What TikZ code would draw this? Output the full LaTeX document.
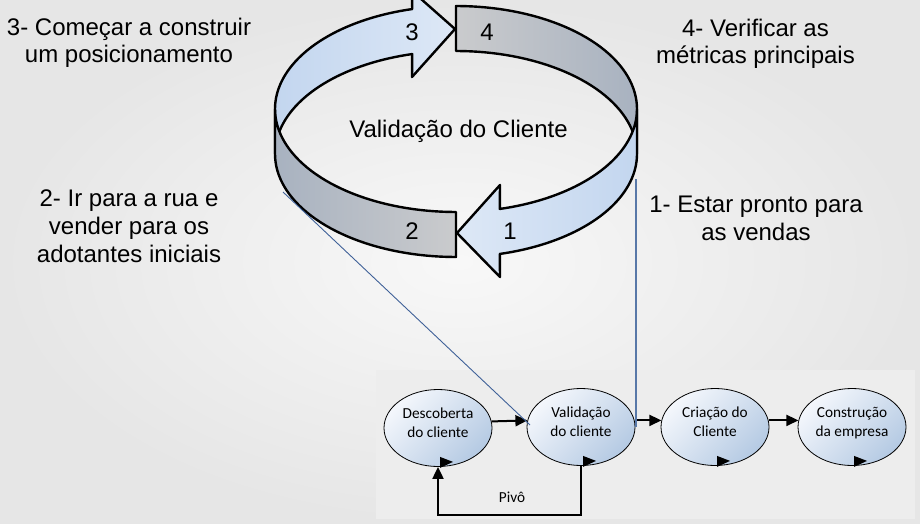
\documentclass[tikz,border=0pt]{standalone}
\usepackage{fontspec}
\setmainfont{Liberation Sans}
\newfontfamily\calib{Carlito}
\usetikzlibrary{arrows.meta,shapes.geometric,calc}
\definecolor{bgin}{HTML}{F8F8F8}
\definecolor{bgout}{HTML}{E6E6E6}
\definecolor{panelc}{HTML}{EDEDED}
\definecolor{blueA}{HTML}{C3D6EF}
\definecolor{blueB}{HTML}{DDE8F6}
\definecolor{grayA}{HTML}{A8B2C0}
\definecolor{grayB}{HTML}{CACBCD}
\definecolor{ellA}{HTML}{F4F7FC}
\definecolor{ellB}{HTML}{B5CAE3}
\definecolor{linkblue}{HTML}{3F6198}
\definecolor{linkblue2}{HTML}{5878A8}
\def\rcx{456}\def\rcy{109}\def\rrx{181}\def\rry{103}\def\rh{45}
\newcommand\stagetri[1]{\fill ($(#1.south)+(2,-10)$) -- ($(#1.south)+(15,-5)$) -- ($(#1.south)+(2,1)$) -- cycle;}
\newcommand\stagetext[2]{\strut #1\\#2\rule[-14pt]{0pt}{0pt}}
\begin{document}
\begin{tikzpicture}[x=1pt,y=-1pt,
  band/.style={draw=black, line width=2.4pt, line join=round},
  bigtxt/.style={align=center, inner sep=0pt, font=\fontsize{24}{27.8}\selectfont},
  numtxt/.style={inner sep=0pt, font=\fontsize{24}{28}\selectfont},
  stage/.style={ellipse, draw=black, line width=0.8pt, minimum width=108pt, minimum height=77pt, inner sep=0pt, align=center, font=\calib\fontsize{15.3}{19}\selectfont, top color=ellA, bottom color=ellB, shading angle=45},
  flow/.style={line width=2pt, -{Triangle[length=12pt,width=11pt]}},
  link/.style={draw=linkblue, line width=0.9pt}
]
\useasboundingbox (0,0) rectangle (920,524);
\shade[inner color=bgin, outer color=bgout] (0,0) rectangle (920,524);
\fill[panelc] (376,370) rectangle (915,519);

% ring: back segments
\shadedraw[band, left color=blueA, right color=blueB]
  plot[domain=180:256, samples=40] ({\rcx+\rrx*cos(\x)},{\rcy+\rry*sin(\x)})
  -- (412,-9) -- (455,29) -- (412,77)
  -- plot[domain=256:180, samples=40] ({\rcx+\rrx*cos(\x)},{\rcy+\rh+\rry*sin(\x)}) -- cycle;
\shadedraw[band, left color=grayB, right color=grayA]
  plot[domain=270:360, samples=40] ({\rcx+\rrx*cos(\x)},{\rcy+\rry*sin(\x)})
  -- plot[domain=360:270, samples=40] ({\rcx+\rrx*cos(\x)},{\rcy+\rh+\rry*sin(\x)}) -- cycle;
% ring: front segments
\shadedraw[band, left color=blueB, right color=blueA]
  plot[domain=0:76, samples=40] ({\rcx+\rrx*cos(\x)},{\rcy+\rry*sin(\x)})
  -- (500,185) -- (457,233) -- (500,277)
  -- plot[domain=76:0, samples=40] ({\rcx+\rrx*cos(\x)},{\rcy+\rh+\rry*sin(\x)}) -- cycle;
\shadedraw[band, left color=grayA, right color=grayB]
  plot[domain=90:180, samples=40] ({\rcx+\rrx*cos(\x)},{\rcy+\rry*sin(\x)})
  -- plot[domain=180:90, samples=40] ({\rcx+\rrx*cos(\x)},{\rcy+\rh+\rry*sin(\x)}) -- cycle;

\node[numtxt, anchor=base] (n3) at (412,41) {3};
\node[numtxt, anchor=base] (n4) at (487,41) {4};
\node[numtxt, anchor=base] (n2) at (412,239) {2};
\node[numtxt, anchor=base] (n1) at (510,239) {1};
\node[numtxt, anchor=base] (title) at (458.5,138) {Validação do Cliente};

% anchor=base of a multi-line node is the baseline of its last line
\node[bigtxt, anchor=base] (t3) at (129,63) {3- Começar a construir\\um posicionamento};
\node[bigtxt, anchor=base] (t2) at (129,262) {2- Ir para a rua e\\vender para os\\adotantes iniciais};
\node[bigtxt, anchor=base] (t4) at (755.5,64) {4- Verificar as\\métricas principais};
\node[bigtxt, anchor=base] (t1) at (756,240) {1- Estar pronto para\\as vendas};

% bottom process
\node[stage] (D) at (438,428) {\stagetext{Descoberta}{do cliente}};
\node[stage] (V) at (581,427) {\stagetext{Validação}{do cliente}};
\node[stage] (C) at (715,427) {\stagetext{Criação do}{Cliente}};
\node[stage] (K) at (852,427) {\stagetext{Construção}{da empresa}};

\draw[flow] (D.7) -- (V.173);
\draw[flow] (V.7) -- (C.173);
\draw[flow] (C.7) -- (K.173);
\draw[flow] (V.south) -- ++(0,49) coordinate (pv) -| (D.south);
\node[font=\calib\fontsize{15.3}{19}\selectfont, inner sep=0pt] (pivo) at (512,497) {Pivô};

\stagetri{D}\stagetri{V}\stagetri{C}\stagetri{K}

% links from ring to process
\coordinate (a2) at (283,192);
\coordinate (aV) at (530,425);
\coordinate (a1) at (636,179);
\coordinate (aV2) at (636,427);
\draw[link] (a2) -- (aV);
\draw[draw=linkblue2, line width=1.8pt] (a1) -- (aV2);
\end{tikzpicture}
\end{document}
